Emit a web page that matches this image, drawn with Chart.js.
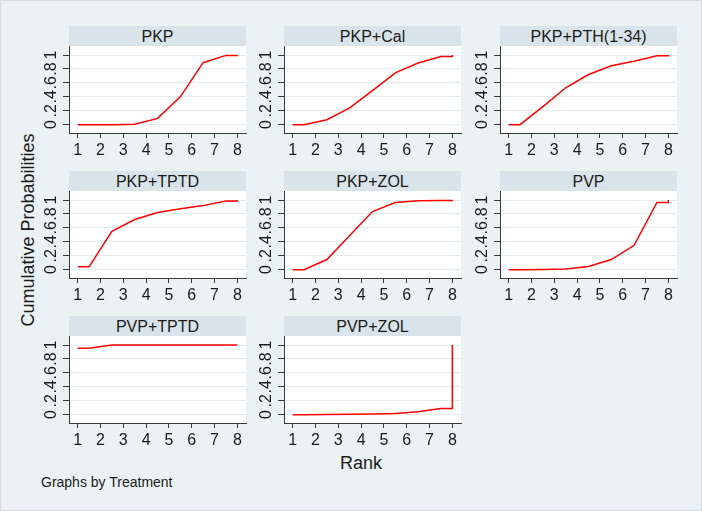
<!DOCTYPE html>
<html>
<head>
<meta charset="utf-8">
<script src="https://cdn.jsdelivr.net/npm/chart.js@4"></script>
<style>
  body { margin: 0; background: #eaf2f3; }
  #frame { position: relative; width: 700px; height: 509px; border: 1px solid #d3dde1; background: #eaf2f3; overflow: hidden;
           font-family: "Liberation Sans", Arial, sans-serif; color: #1a1a1a; }
  .strip { position: absolute; height: 20px; line-height: 21px; background: #d8e4ea; text-align: center; font-size: 16px; }
  canvas { position: absolute; }
  .ytitle { position: absolute; left: 27px; top: 229px; font-size: 18px; white-space: nowrap;
            transform: translate(-50%, -50%) rotate(-90deg); }
  .xtitle { position: absolute; left: 360px; top: 462px; font-size: 18px; transform: translate(-50%, -50%); }
  .note { position: absolute; left: 40px; top: 473px; font-size: 14px; }
</style>
</head>
<body>
<div id="frame">
  <div class="ytitle">Cumulative Probabilities</div>
  <div class="xtitle">Rank</div>
  <div class="note">Graphs by Treatment</div>
</div>
<script>
// x positions of the plotted points (same for every treatment)
const ranks = [1, 1.5, 2.5, 3.5, 4.5, 5.5, 6.5, 7.5, 8, 8];

const treatments = ['PKP', 'PKP+Cal', 'PKP+PTH(1-34)', 'PKP+TPTD', 'PKP+ZOL', 'PVP', 'PVP+TPTD', 'PVP+ZOL'];

// cumulative probabilities
const pkp     = [0, 0, 0, 0.005, 0.09, 0.40, 0.89, 0.995, 0.995, 1];
const pkpCal  = [0, 0, 0.07, 0.24, 0.49, 0.745, 0.885, 0.98, 0.98, 1];
const pkpPth  = [0, 0, 0.26, 0.53, 0.72, 0.845, 0.91, 0.99, 0.99, 1];
const pkpTptd = [0.04, 0.04, 0.55, 0.72, 0.82, 0.875, 0.92, 0.985, 0.985, 1];
const pkpZol  = [0, 0, 0.145, 0.49, 0.835, 0.965, 0.99, 0.995, 0.995, 1];
const pvp     = [0, 0, 0.003, 0.01, 0.045, 0.145, 0.35, 0.965, 0.965, 1];
const pvpTptd = [0.955, 0.955, 1, 1, 1, 1, 1, 1, 1, 1];
const pvpZol  = [0, 0, 0.002, 0.005, 0.01, 0.018, 0.04, 0.09, 0.09, 1];

const series = [pkp, pkpCal, pkpPth, pkpTptd, pkpZol, pvp, pvpTptd, pvpZol];

const xTicks = [1, 2, 3, 4, 5, 6, 7, 8];
const yTicks = [0, 0.2, 0.4, 0.6, 0.8, 1];
const yTickLabels = ['0', '.2', '.4', '.6', '.8', '1'];

// panel geometry
const colLeft = [68, 283, 499];
const rowTop = [45, 190, 335];
const plotW = 177, plotH = 87, axisW = 40, axisH = 30;

const FONT = '"Liberation Sans", Arial, sans-serif';
const TEXT = '#1a1a1a';
const AXIS = '#3a3a3a';

// white plot region + rotated y labels (Stata style)
const panelPlugin = {
  id: 'panel',
  beforeDraw(chart) {
    const { ctx, chartArea: a } = chart;
    ctx.save();
    ctx.fillStyle = '#ffffff';
    ctx.fillRect(a.left, a.top, a.right - a.left, a.bottom - a.top);
    ctx.restore();
  },
  afterDraw(chart) {
    const { ctx } = chart;
    const y = chart.scales.y;
    ctx.save();
    ctx.font = '16px ' + FONT;
    ctx.fillStyle = TEXT;
    ctx.textAlign = 'center';
    ctx.textBaseline = 'middle';
    yTicks.forEach((v, i) => {
      ctx.save();
      ctx.translate(y.right - 17, y.getPixelForValue(v));
      ctx.rotate(-Math.PI / 2);
      ctx.fillText(yTickLabels[i], 0, 0);
      ctx.restore();
    });
    ctx.restore();
  }
};

const frame = document.getElementById('frame');

treatments.forEach((name, i) => {
  const left = colLeft[i % 3];
  const top = rowTop[Math.floor(i / 3)];

  const strip = document.createElement('div');
  strip.className = 'strip';
  strip.style.left = left + 'px';
  strip.style.top = (top - 20) + 'px';
  strip.style.width = plotW + 'px';
  strip.textContent = name;
  frame.appendChild(strip);

  const canvas = document.createElement('canvas');
  canvas.width = axisW + plotW + 5;
  canvas.height = plotH + axisH;
  canvas.style.left = (left - axisW) + 'px';
  canvas.style.top = top + 'px';
  frame.appendChild(canvas);

  new Chart(canvas.getContext('2d'), {
    type: 'line',
    data: {
      datasets: [{
        data: ranks.map((r, k) => ({ x: r, y: series[i][k] })),
        borderColor: '#ff0000',
        borderWidth: 1.5,
        pointRadius: 0,
        tension: 0,
        fill: false
      }]
    },
    options: {
      responsive: false,
      animation: false,
      devicePixelRatio: 1,
      layout: { padding: { left: 0, right: 5, top: 0, bottom: 0 } },
      plugins: { legend: { display: false }, tooltip: { enabled: false } },
      scales: {
        x: {
          type: 'linear',
          min: 0.62,
          max: 8.38,
          afterBuildTicks: s => { s.ticks = xTicks.map(v => ({ value: v })); },
          afterFit: s => { s.height = axisH; },
          grid: { drawOnChartArea: false, drawTicks: true, tickLength: 5, tickColor: AXIS },
          border: { display: true, color: AXIS, width: 1 },
          ticks: { font: { family: FONT, size: 16 }, color: TEXT, padding: 3, maxRotation: 0, autoSkip: false }
        },
        y: {
          type: 'linear',
          min: -0.12,
          max: 1.13,
          afterBuildTicks: s => { s.ticks = yTicks.map(v => ({ value: v })); },
          afterFit: s => { s.width = axisW; },
          grid: { color: '#e3ebef', lineWidth: 1, drawTicks: true, tickLength: 6, tickColor: AXIS },
          border: { display: true, color: AXIS, width: 1 },
          ticks: { display: false }
        }
      }
    },
    plugins: [panelPlugin]
  });
});
</script>
</body>
</html>
